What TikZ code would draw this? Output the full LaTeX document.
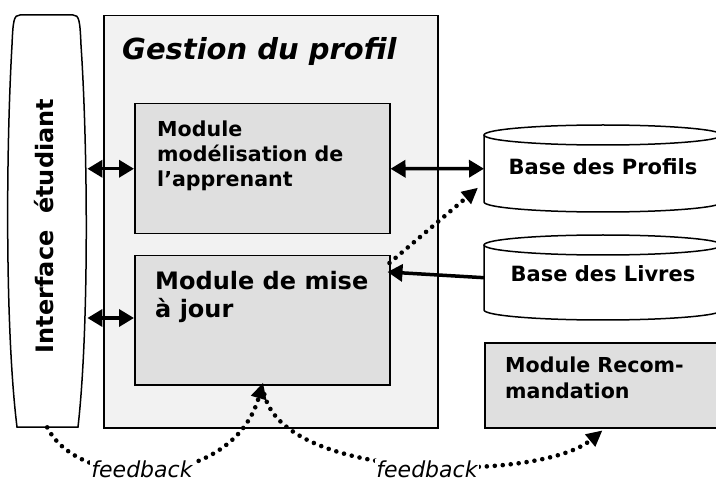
\documentclass[tikz,border=0pt]{standalone}
\usepackage{fontspec}
\setmainfont{DejaVu Sans}
\usetikzlibrary{arrows.meta}
\definecolor{gestfill}{HTML}{F2F2F2}
\definecolor{modfill}{HTML}{DFDFDF}
\begin{document}
\begin{tikzpicture}[x=1pt,y=-1pt,
  outline/.style={draw=black, line width=1.5pt},
  gbox/.style={outline, fill=gestfill, inner sep=0pt, anchor=north west},
  mbox/.style={outline, fill=modfill, inner sep=0pt, anchor=north west},
  ghost/.style={inner sep=0pt, anchor=north west},
  modtxt/.style={anchor=base west, inner sep=0pt, font=\bfseries\fontsize{20.6pt}{25pt}\selectfont},
  bigtxt/.style={anchor=base west, inner sep=0pt, font=\bfseries\fontsize{24pt}{28pt}\selectfont},
  dbtxt/.style={anchor=base, inner sep=0pt, font=\bfseries\fontsize{21pt}{25pt}\selectfont},
  fbtxt/.style={fill=white, inner sep=1pt, font=\itshape\fontsize{22pt}{26pt}\selectfont},
  dbl/.style={line width=3.5pt, {Triangle[length=15pt,width=17pt]}-{Triangle[length=15pt,width=17pt]}},
  single/.style={line width=3.5pt, -{Triangle[length=15pt,width=17pt]}},
  dots/.style={line width=4.6pt, line cap=round, dash pattern=on 0pt off 8pt, -{Triangle[length=16pt,width=15pt]}}
]
\useasboundingbox (0,0) rectangle (716,484);
\clip (0,0) rectangle (716,484);

% Interface etudiant
\draw[outline, fill=white] (17,427) .. controls (5,330) and (6,150) .. (12,45)
  .. controls (13,20) and (14,15) .. (20,15) -- (73,15)
  .. controls (79,15) and (80,20) .. (81,45)
  .. controls (88,150) and (89,330) .. (78,427) -- cycle;
\node[ghost, minimum width=80pt, minimum height=412pt] (iface) at (7,15) {};
\node[rotate=90, inner sep=0pt, font=\bfseries\fontsize{24pt}{28pt}\selectfont] (ifacet) at (44,226) {Interface\ \ étudiant};

% Gestion du profil
\node[gbox, minimum width=334pt, minimum height=412pt] (gest) at (103,15) {};
\node[anchor=base west, inner sep=0pt, font=\bfseries\itshape\fontsize{29pt}{32pt}\selectfont] (gestt) at (122,60) {Gestion du profil};

\node[mbox, minimum width=255pt, minimum height=130pt] (mod1) at (134,103) {};
\node[modtxt] (mod1t) at (157,137) {\parbox[t]{225pt}{\raggedright Module\\ modélisation de\\ l’apprenant}};

\node[mbox, minimum width=255pt, minimum height=129pt] (mod2) at (134,255) {};
\node[bigtxt] (mod2t) at (155,290) {\parbox[t]{230pt}{\raggedright Module de mise\\ à jour}};

% Bases
\draw[outline] (484,135) -- (484,202) arc[start angle=180, end angle=0, x radius=119, y radius=10] -- (722,135);
\draw[outline] (603,135) ellipse[x radius=119, y radius=10];
\node[ghost, minimum width=238pt, minimum height=87pt] (prof) at (484,125) {};
\node[dbtxt] (proft) at (603,175) {Base des Profils};

\draw[outline] (484,245) -- (484,310) arc[start angle=180, end angle=0, x radius=119, y radius=10] -- (722,245);
\draw[outline] (603,245) ellipse[x radius=119, y radius=10];
\node[ghost, minimum width=238pt, minimum height=85pt] (livres) at (484,235) {};
\node[dbtxt] (livrest) at (603,282) {Base des Livres};

% Module Recommandation
\node[mbox, minimum width=240pt, minimum height=85pt] (rec) at (484,342) {};
\node[modtxt] (rect) at (505,373) {\parbox[t]{210pt}{\raggedright Module Recom-\\ mandation}};

% connectors
\draw[dbl] (iface.east |- mod1.west) -- (mod1.west);
\draw[dbl] (iface.east |- 0,318) -- (mod2.west |- 0,318);
\draw[dbl] (mod1.east) -- (prof.west);
\draw[single] (livres.west) -- ([xshift=-3pt]mod2.east |- 0,272);
\draw[dots] ([shift={(-1,8)}]mod2.north east) -- ([shift={(-6,19)}]prof.west);

% feedback
\draw[dots, shorten >=-3pt] (iface.south) .. controls (80,492) and (232,490) .. (mod2.south);
\node[fbtxt] (fb1) at (142,469) {feedback};
\draw[dots, shorten <=9pt, shorten >=3pt] (mod2.south) .. controls (285,482) and (540,482) .. (rec.south);
\node[fbtxt] (fb2) at (427,469) {feedback};
\end{tikzpicture}
\end{document}
